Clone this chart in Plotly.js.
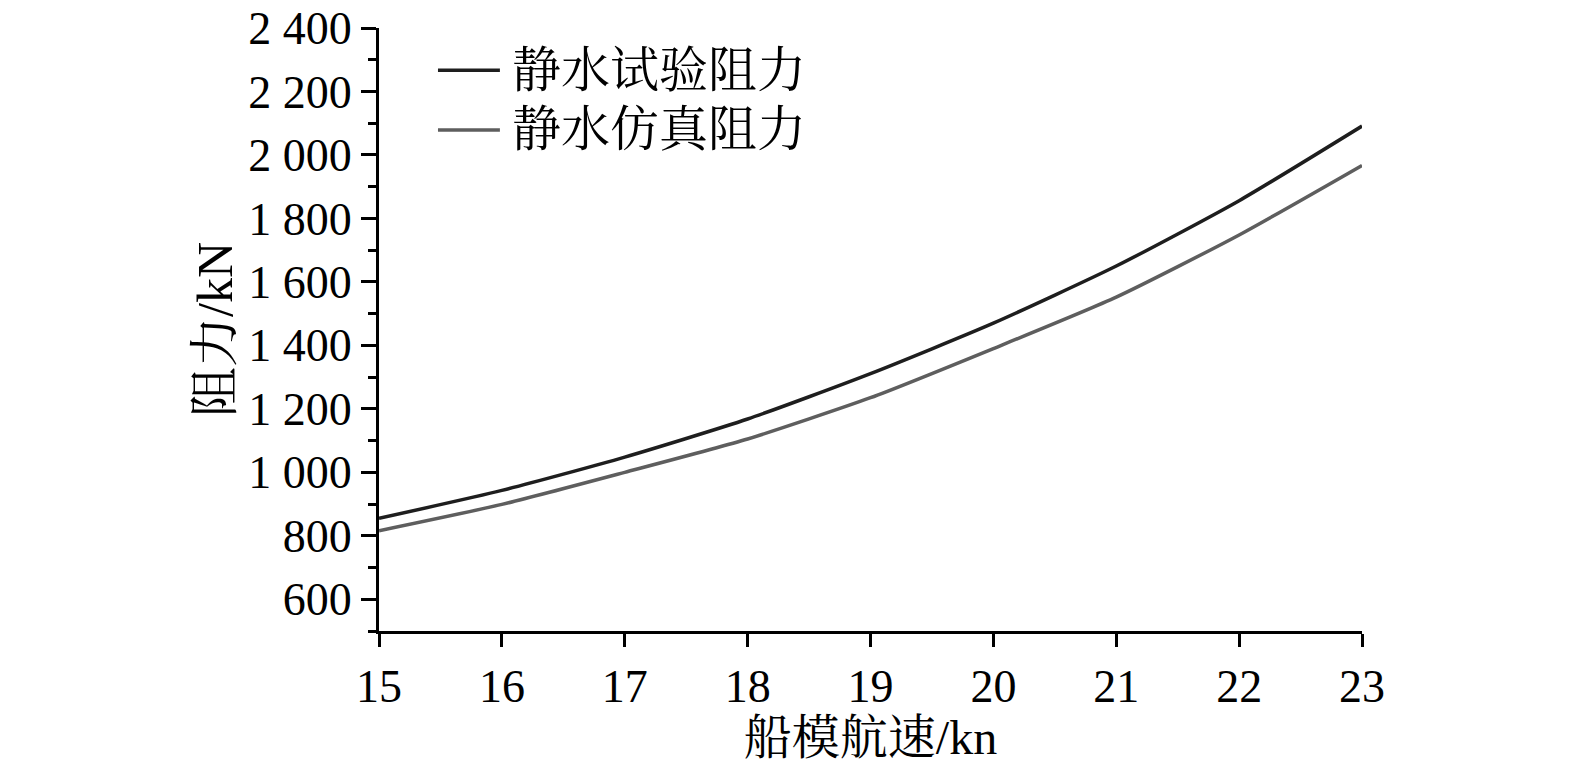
<!DOCTYPE html>
<html>
<head>
<meta charset="utf-8">
<script src="https://cdn.plot.ly/plotly-3.0.1.min.js"></script>
<style>
html,body{margin:0;padding:0;background:#fff;}
#chart{width:1575px;height:764px;}
</style>
</head>
<body>
<div id="chart"></div>
<script>
const speeds = [15, 16, 17, 18, 19, 20, 21, 22, 23];
const testResistance = [855, 943, 1048, 1168, 1311, 1470, 1650, 1856, 2091];
const simResistance = [816, 899, 1000, 1105, 1235, 1390, 1552, 1748, 1967];
const seriesNames = ['静水试验阻力', '静水仿真阻力'];
const seriesColors = ['#1e1e1e', '#5e5e5e'];
const yTickVals = [600, 800, 1000, 1200, 1400, 1600, 1800, 2000, 2200, 2400];
const yTickText = ['600', '800', '1 000', '1 200', '1 400', '1 600', '1 800', '2 000', '2 200', '2 400'];
const xTickVals = [15, 16, 17, 18, 19, 20, 21, 22, 23];
const xTickText = ['15', '16', '17', '18', '19', '20', '21', '22', '23'];

const FONT = '"Liberation Serif", "Times New Roman", "Noto Serif CJK SC", "Noto Sans CJK SC", serif';

const traces = [
  {x: speeds, y: testResistance, name: seriesNames[0], mode: 'lines',
   line: {color: seriesColors[0], width: 3.5, shape: 'spline', smoothing: 0.6}, showlegend: false},
  {x: speeds, y: simResistance, name: seriesNames[1], mode: 'lines',
   line: {color: seriesColors[1], width: 3.5, shape: 'spline', smoothing: 0.6}, showlegend: false}
];

// manual legend (line samples + labels) in paper coordinates
const legendY = [0.930, 0.831];
const shapes = legendY.map((yy, i) => ({
  type: 'line', xref: 'paper', yref: 'paper',
  x0: 0.060, x1: 0.123, y0: yy, y1: yy,
  line: {color: seriesColors[i], width: 3.5}
}));
const annotations = legendY.map((yy, i) => ({
  xref: 'paper', yref: 'paper', x: 0.133, y: yy,
  xanchor: 'left', yanchor: 'middle', showarrow: false,
  text: seriesNames[i], font: {family: FONT, size: 49, color: '#000'}
}));

const layout = {
  width: 1575, height: 764,
  paper_bgcolor: '#fff', plot_bgcolor: '#fff',
  margin: {l: 379, r: 213, t: 28, b: 133},
  font: {family: FONT, size: 46, color: '#000'},
  showlegend: false,
  xaxis: {
    range: [15, 23], tickmode: 'array', tickvals: xTickVals, ticktext: xTickText,
    showline: true, linecolor: '#000', linewidth: 3,
    ticks: 'outside', ticklen: 13, tickwidth: 3, tickcolor: '#000',
    showgrid: false, zeroline: false,
    tickfont: {family: FONT, size: 46, color: '#000'},
    title: {text: '船模航速/kn', font: {family: FONT, size: 48, color: '#000'}, standoff: 2}
  },
  yaxis: {
    range: [500, 2400], tickmode: 'array', tickvals: yTickVals, ticktext: yTickText,
    showline: true, linecolor: '#000', linewidth: 3,
    ticks: 'outside', ticklen: 15, tickwidth: 3, tickcolor: '#000',
    minor: {tickmode: 'linear', tick0: 500, dtick: 100, ticks: 'outside', ticklen: 8, tickwidth: 3, tickcolor: '#000', showgrid: false},
    showgrid: false, zeroline: false,
    tickfont: {family: FONT, size: 46, color: '#000'},
    title: {text: '阻力/kN', font: {family: FONT, size: 50, color: '#000'}, standoff: 0}
  },
  shapes: shapes,
  annotations: annotations
};

Plotly.newPlot('chart', traces, layout, {displayModeBar: false, staticPlot: true});
</script>
</body>
</html>
